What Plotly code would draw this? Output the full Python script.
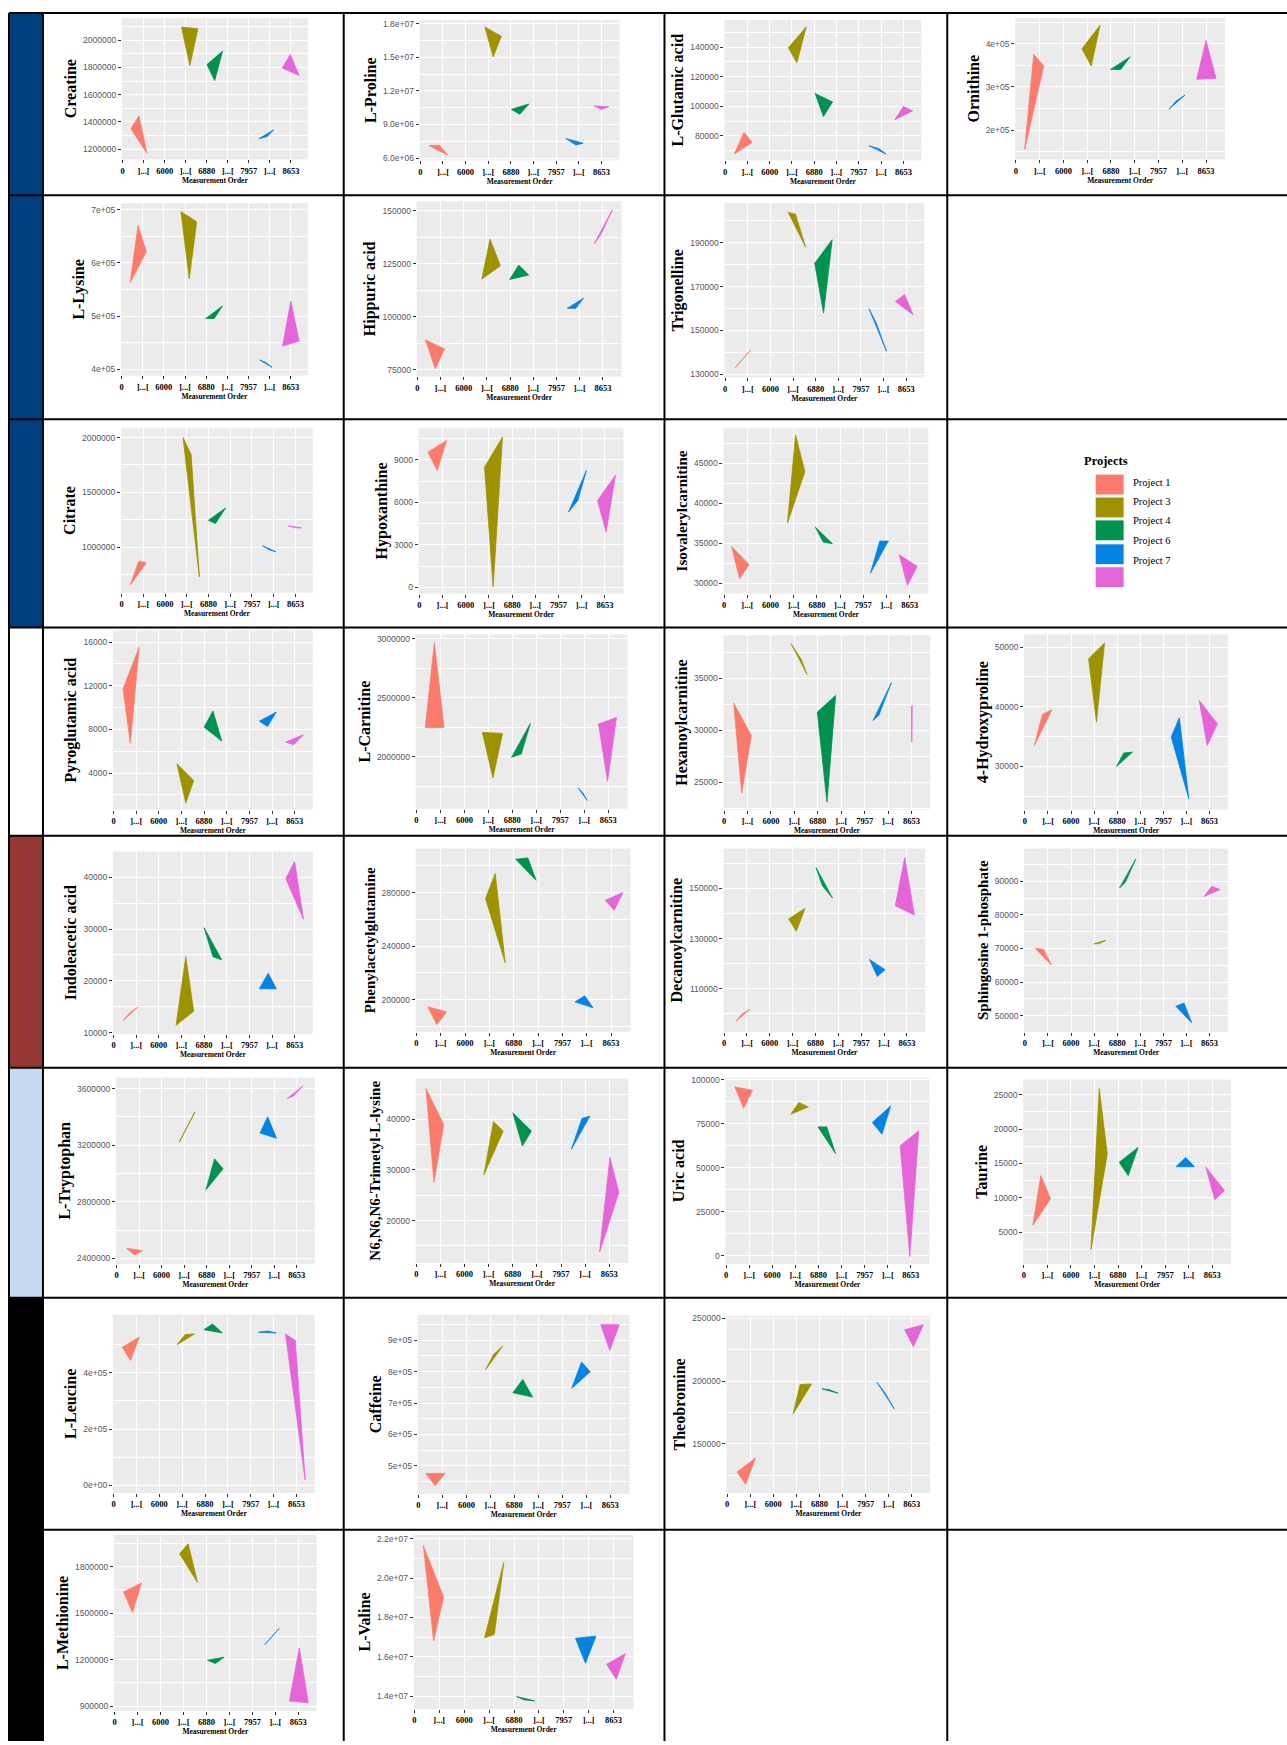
import plotly.graph_objects as go

W, H = 1287, 1745

# ---------------- data ----------------
PROJECTS = ["Project 1", "Project 3", "Project 4", "Project 6", "Project 7"]
COLORS = ["#FA7B6C", "#9E9200", "#00914F", "#0583E3", "#E465D8"]

X_POS = [0, 1, 2, 3, 4, 5, 6, 7, 8]
X_LABELS = ["0", "]...[", "6000", "]...[", "6880", "]...[", "7957", "]...[", "8653"]

# each metabolite: triangle vertices per project (order of PROJECTS); None = no mark
creatine_x = [[0.40, 0.78, 1.16], [2.80, 3.58, 3.20], [4.01, 4.75, 4.38], [6.48, 7.18, 6.87], [7.59, 7.97, 8.39]]
creatine_y = [[1350000, 1443000, 1169000], [2097000, 2083000, 1814000], [1821000, 1919000, 1704000], [1277000, 1341000, 1292000], [1795000, 1895000, 1741000]]
creatine_ticks = [1200000, 1400000, 1600000, 1800000, 2000000]

proline_x = [[0.39, 0.83, 1.21], [2.85, 3.58, 3.22], [4.02, 4.80, 4.39], [6.43, 7.19, 6.87], [7.68, 8.33, 8.0]]
proline_y = [[7.1e6, 7.16e6, 6.27e6], [1.77e7, 1.687e7, 1.504e7], [1.035e7, 1.083e7, 9.91e6], [7.75e6, 7.33e6, 7.16e6], [1.065e7, 1.059e7, 1.035e7]]
proline_ticks = [6e6, 9e6, 1.2e7, 1.5e7, 1.8e7]
proline_labels = ["6.0e+06", "9.0e+06", "1.2e+07", "1.5e+07", "1.8e+07"]

glutamic_x = [[0.41, 0.85, 1.21], [2.84, 3.64, 3.22], [4.04, 4.82, 4.41], [6.45, 7.22, 6.9], [7.61, 8.0, 8.41]]
glutamic_y = [[67640, 82250, 75500], [139550, 153700, 129440], [108540, 102920, 93030], [73260, 67640, 71300], [90790, 99780, 96850]]
glutamic_ticks = [80000, 100000, 120000, 140000]

ornithine_x = [[0.37, 0.75, 1.17], [2.78, 3.54, 3.17], [3.98, 4.41, 4.81], [6.44, 7.12, 6.75], [7.61, 8.0, 8.42]]
ornithine_y = [[156000, 375400, 348500], [388500, 443000, 348500], [340800, 340800, 370000], [248500, 281500, 268000], [317700, 407700, 320000]]
ornithine_ticks = [2e5, 3e5, 4e5]
ornithine_labels = ["2e+05", "3e+05", "4e+05"]

lysine_x = [[0.41, 0.78, 1.17], [2.81, 3.55, 3.2], [3.98, 4.77, 4.38], [6.53, 7.11, 6.8], [7.61, 8.0, 8.39]]
lysine_y = [[562800, 670000, 621400], [696300, 677500, 570000], [495400, 519000, 495400], [417400, 403700, 413000], [443600, 528400, 453000]]
lysine_ticks = [4e5, 5e5, 6e5, 7e5]
lysine_labels = ["4e+05", "5e+05", "6e+05", "7e+05"]

hippuric_x = [[0.35, 1.17, 0.77], [3.13, 3.58, 2.78], [4.37, 4.8, 3.98], [6.46, 7.16, 6.83], [7.63, 8.4, 7.92]]
hippuric_y = [[89100, 84870, 75450], [136660, 124100, 117830], [124420, 119710, 117670], [104020, 108720, 104020], [134620, 150310, 139000]]
hippuric_ticks = [75000, 100000, 125000, 150000]

trigonelline_x = [[0.44, 1.12, 0.78], [2.79, 3.11, 3.56], [3.96, 4.73, 4.35], [6.36, 6.69, 7.13], [7.52, 7.93, 8.31]]
trigonelline_y = [[132880, 140910, 137200], [203790, 203030, 187880], [180610, 191360, 157880], [159850, 153030, 140450], [163180, 166360, 157120]]
trigonelline_ticks = [130000, 150000, 170000, 190000]

citrate_x = [[0.4, 0.79, 1.14], [2.83, 3.2, 3.58], [4.0, 4.79, 4.32], [6.49, 7.1, 6.81], [7.68, 8.29, 8.0]]
citrate_y = [[654500, 872700, 857600], [2000000, 1845500, 730300], [1245500, 1357600, 1215200], [1012100, 957600, 975000], [1194000, 1175800, 1176000]]
citrate_ticks = [1000000, 1500000, 2000000]

hypoxanthine_x = [[0.37, 1.17, 0.77], [2.81, 3.58, 3.18], None, [6.43, 7.2, 6.83], [7.68, 8.45, 8.05]]
hypoxanthine_y = [[9540, 10360, 8250], [8480, 10600, 26], None, [5310, 8250, 6130], [6130, 7900, 3900]]
hypoxanthine_ticks = [0, 3000, 6000, 9000]

isovaleryl_x = [[0.32, 1.07, 0.67], [2.73, 3.08, 3.48], [3.93, 4.67, 4.27], [6.31, 6.71, 7.08], [7.55, 8.32, 7.9]]
isovaleryl_y = [[34580, 32330, 30540], [37500, 48540, 43960], [37000, 34920, 35130], [31250, 35250, 35250], [33540, 32080, 29710]]
isovaleryl_ticks = [30000, 35000, 40000, 45000]

pyroglutamic_x = [[0.42, 1.13, 0.74], [2.8, 3.54, 3.19], [4.0, 4.39, 4.78], [6.44, 7.19, 6.8], [7.61, 8.39, 7.96]]
pyroglutamic_y = [[11725, 15540, 6750], [4855, 3330, 1250], [8210, 9680, 6930], [8760, 9590, 8270], [6840, 7510, 6600]]
pyroglutamic_ticks = [4000, 8000, 12000, 16000]

carnitine_x = [[0.37, 0.75, 1.15], [2.75, 3.59, 3.19], [3.97, 4.75, 4.37], [6.75, 7.12, 6.92], [7.59, 8.34, 7.97]]
carnitine_y = [[2247900, 2966200, 2247900], [2205600, 2197200, 1819700], [1994400, 2281700, 2022500], [1732400, 1628200, 1698600], [2276000, 2332400, 1791500]]
carnitine_ticks = [2000000, 2500000, 3000000]

hexanoyl_x = [[0.41, 1.16, 0.75], [2.86, 3.54, 3.3], [3.98, 4.76, 4.39], [6.36, 7.14, 6.6], [8.0, 8.03, 8.01]]
hexanoyl_y = [[32600, 29500, 23980], [38290, 35350, 36760], [31740, 33340, 23110], [30940, 34550, 31420], [32300, 32350, 28870]]
hexanoyl_ticks = [25000, 30000, 35000]

hydroxyproline_x = [[0.41, 1.17, 0.76], [2.76, 3.45, 3.1], [3.97, 4.66, 4.28], [6.34, 6.69, 7.1], [7.55, 8.34, 7.9]]
hydroxyproline_y = [[33520, 39500, 38720], [48040, 50670, 37430], [30000, 32400, 32240], [34920, 38160, 24580], [41060, 37150, 33520]]
hydroxyproline_ticks = [30000, 40000, 50000]

indoleacetic_x = [[0.42, 1.06, 0.71], [2.76, 3.19, 3.54], [4.0, 4.78, 4.39], [6.44, 6.83, 7.19], [7.61, 8.0, 8.39]]
indoleacetic_y = [[12370, 14920, 13840], [11470, 24680, 14150], [30240, 24050, 24680], [18490, 21490, 18490], [39680, 43000, 31900]]
indoleacetic_ticks = [10000, 20000, 30000, 40000]

phenylacetyl_x = [[0.47, 1.24, 0.84], [2.84, 3.24, 3.65], [4.08, 4.58, 4.92], [6.52, 6.92, 7.26], [7.76, 8.49, 8.13]]
phenylacetyl_y = [[194520, 190780, 181310], [275510, 294200, 227660], [304920, 305920, 289220], [198260, 202740, 193770], [274270, 280000, 266790]]
phenylacetyl_ticks = [200000, 240000, 280000]

decanoyl_x = [[0.52, 1.13, 0.79], [2.82, 3.54, 3.16], [4.02, 4.3, 4.74], [6.36, 7.04, 6.7], [7.49, 7.9, 8.32]]
decanoyl_y = [[97020, 101790, 99930], [137810, 142050, 132910], [158340, 151060, 146160], [121660, 117550, 114900], [143110, 162320, 139400]]
decanoyl_ticks = [110000, 130000, 150000]

sphingosine_x = [[0.45, 0.8, 1.15], [2.99, 3.51, 3.23], [4.1, 4.8, 4.35], [6.54, 6.89, 7.23], [7.76, 8.1, 8.45]]
sphingosine_y = [[70000, 69800, 65070], [71380, 72460, 71450], [88030, 96600, 89700], [52760, 53740, 47830], [85470, 88520, 87540]]
sphingosine_ticks = [50000, 60000, 70000, 80000, 90000]

tryptophan_x = [[0.45, 1.15, 0.8], [2.78, 3.48, 3.06], [3.97, 4.73, 4.35], [6.37, 6.71, 7.1], [7.58, 8.28, 7.86]]
tryptophan_y = [[2470500, 2454100, 2423600], [3220400, 3436000, 3318000], [2885300, 3032900, 3103200], [3286000, 3400800, 3248500], [3529700, 3618700, 3548400]]
tryptophan_ticks = [2400000, 2800000, 3200000, 3600000]

trimethyllysine_x = [[0.4, 1.13, 0.73], [2.8, 3.2, 3.6], [4.0, 4.77, 4.4], [6.43, 6.87, 7.2], [7.6, 8.03, 8.4]]
trimethyllysine_y = [[46100, 39020, 27540], [29050, 39540, 37700], [41310, 37700, 34750], [34100, 40200, 40660], [13770, 32460, 25570]]
trimethyllysine_ticks = [20000, 30000, 40000]

uric_x = [[0.38, 1.14, 0.76], [2.8, 3.15, 3.56], [3.98, 4.36, 4.74], [6.33, 7.13, 6.75], [7.54, 8.34, 7.96]]
uric_y = [[96030, 94140, 83930], [80530, 87150, 84690], [73350, 73350, 58220], [75800, 85260, 69190], [62570, 71080, -380]]
uric_ticks = [0, 25000, 50000, 75000, 100000]

taurine_x = [[0.38, 0.72, 1.13], [2.85, 3.2, 3.54], [4.05, 4.85, 4.43], [6.46, 7.25, 6.87], [7.73, 8.52, 8.11]]
taurine_y = [[6050, 13250, 9890], [2550, 25860, 16370], [15170, 17330, 13250], [14540, 14540, 15890], [14450, 11090, 9750]]
taurine_ticks = [5000, 10000, 15000, 20000, 25000]

leucine_x = [[0.38, 1.12, 0.74], [2.78, 3.54, 3.13], [3.95, 4.33, 4.76], [6.34, 6.75, 7.11], [7.52, 7.95, 8.38]]
leucine_y = [[490600, 525900, 443500], [500000, 537600, 535300], [552900, 572900, 541200], [543500, 548200, 541200], [537600, 514100, 20000]]
leucine_ticks = [0, 2e5, 4e5]
leucine_labels = ["0e+00", "2e+05", "4e+05"]

caffeine_x = [[0.31, 1.11, 0.7], [2.81, 3.51, 3.13], [3.94, 4.35, 4.76], [6.39, 6.8, 7.16], [7.6, 8.37, 7.98]]
caffeine_y = [[475700, 475700, 436500], [806900, 881000, 854500], [732800, 775100, 719000], [746600, 831200, 799500], [949700, 949700, 867200]]
caffeine_ticks = [5e5, 6e5, 7e5, 8e5, 9e5]
caffeine_labels = ["5e+05", "6e+05", "7e+05", "8e+05", "9e+05"]

theobromine_x = [[0.43, 1.23, 0.8], [2.86, 3.16, 3.66], [4.11, 4.81, 4.41], [6.49, 7.24, 6.82], [7.69, 8.5, 8.07]]
theobromine_y = [[127450, 138600, 117640], [173870, 197220, 197750], [193770, 190320, 193200], [199070, 177850, 191000], [240980, 244960, 227450]]
theobromine_ticks = [150000, 200000, 250000]

methionine_x = [[0.39, 1.17, 0.78], [2.83, 3.2, 3.61], [4.04, 4.76, 4.39], [6.54, 7.16, 6.85], [7.61, 8.04, 8.43]]
methionine_y = [[1636800, 1694800, 1505800], [1883700, 1948200, 1699100], [1196600, 1215900, 1175100], [1297500, 1400600, 1355500], [932500, 1276000, 921700]]
methionine_ticks = [900000, 1200000, 1500000, 1800000]

valine_x = [[0.36, 1.17, 0.77], [2.82, 3.21, 3.59], [4.1, 4.83, 4.41], [6.47, 7.29, 6.87], [7.72, 8.47, 8.11]]
valine_y = [[2.1646e7, 1.9046e7, 1.6802e7], [1.697e7, 1.714e7, 2.08e7], [1.398e7, 1.376e7, 1.381e7], [1.694e7, 1.705e7, 1.567e7], [1.562e7, 1.616e7, 1.486e7]]
valine_ticks = [1.4e7, 1.6e7, 1.8e7, 2.0e7, 2.2e7]
valine_labels = ["1.4e+07", "1.6e+07", "1.8e+07", "2.0e+07", "2.2e+07"]

# (name, x vertices, y vertices, y ticks, y tick labels or None)
PANELS = [
    ("Creatine", creatine_x, creatine_y, creatine_ticks, None),
    ("L-Proline", proline_x, proline_y, proline_ticks, proline_labels),
    ("L-Glutamic acid", glutamic_x, glutamic_y, glutamic_ticks, None),
    ("Ornithine", ornithine_x, ornithine_y, ornithine_ticks, ornithine_labels),
    ("L-Lysine", lysine_x, lysine_y, lysine_ticks, lysine_labels),
    ("Hippuric acid", hippuric_x, hippuric_y, hippuric_ticks, None),
    ("Trigonelline", trigonelline_x, trigonelline_y, trigonelline_ticks, None),
    ("Citrate", citrate_x, citrate_y, citrate_ticks, None),
    ("Hypoxanthine", hypoxanthine_x, hypoxanthine_y, hypoxanthine_ticks, None),
    ("Isovalerylcarnitine", isovaleryl_x, isovaleryl_y, isovaleryl_ticks, None),
    ("Pyroglutamic acid", pyroglutamic_x, pyroglutamic_y, pyroglutamic_ticks, None),
    ("L-Carnitine", carnitine_x, carnitine_y, carnitine_ticks, None),
    ("Hexanoylcarnitine", hexanoyl_x, hexanoyl_y, hexanoyl_ticks, None),
    ("4-Hydroxyproline", hydroxyproline_x, hydroxyproline_y, hydroxyproline_ticks, None),
    ("Indoleacetic acid", indoleacetic_x, indoleacetic_y, indoleacetic_ticks, None),
    ("Phenylacetylglutamine", phenylacetyl_x, phenylacetyl_y, phenylacetyl_ticks, None),
    ("Decanoylcarnitine", decanoyl_x, decanoyl_y, decanoyl_ticks, None),
    ("Sphingosine 1-phosphate", sphingosine_x, sphingosine_y, sphingosine_ticks, None),
    ("L-Tryptophan", tryptophan_x, tryptophan_y, tryptophan_ticks, None),
    ("N6,N6,N6-Trimetyl-L-lysine", trimethyllysine_x, trimethyllysine_y, trimethyllysine_ticks, None),
    ("Uric acid", uric_x, uric_y, uric_ticks, None),
    ("Taurine", taurine_x, taurine_y, taurine_ticks, None),
    ("L-Leucine", leucine_x, leucine_y, leucine_ticks, leucine_labels),
    ("Caffeine", caffeine_x, caffeine_y, caffeine_ticks, caffeine_labels),
    ("Theobromine", theobromine_x, theobromine_y, theobromine_ticks, None),
    ("L-Methionine", methionine_x, methionine_y, methionine_ticks, None),
    ("L-Valine", valine_x, valine_y, valine_ticks, valine_labels),
]

# ---------------- layout (pixels) ----------------
# grey plotting area of every panel: x0, x1, y0(top), y1(bottom) ; y axis range
PANEL_BOX = [
    (121, 307, 15, 157), (419, 619, 17, 158), (724, 921, 17, 158), (1015, 1225, 15, 157),
    (120, 307, 201, 374), (416, 621, 199, 375), (724, 924, 201, 376),
    (120, 312, 427, 592), (418, 623, 427, 593), (723, 928, 427, 593),
    (112, 312, 630, 810), (415, 627, 634, 809), (723, 930, 635, 810), (1024, 1228, 634, 810),
    (112, 312, 852, 1035), (415, 630, 849, 1033), (723, 925, 849, 1033), (1024, 1228, 849, 1033),
    (115, 314, 1079, 1266), (415, 628, 1080, 1265), (725, 929, 1079, 1266), (1023, 1231, 1081, 1266),
    (112, 314, 1317, 1496), (417, 629, 1317, 1497), (726, 930, 1318, 1496),
    (113, 316, 1538, 1715), (413, 633, 1538, 1713),
]
Y_RANGE = [
    (1125000, 2163000), (5.8e6, 1.833e7), (63370, 158380), (132300, 460000),
    (388200, 712300), (71850, 154570), (128480, 208030),
    (584800, 2084800), (-446, 11230), (28670, 49380),
    (640, 17070), (1557700, 3036600), (22380, 39090), (22740, 52120),
    (9810, 44910), (175830, 312900), (92780, 165890), (45170, 99750),
    (2360200, 3677300), (11610, 48070), (-4540, 101320), (440, 27160),
    (-27000, 605900), (410100, 981500), (110740, 252120),
    (867800, 2006200), (1.334e7, 2.22e7),
]

ROW_Y = [10, 193, 418, 627, 836, 1069, 1300, 1533, 1745]
COL_X = [8, 42, 343, 664, 947, 1287]
STRIP_COLORS = ["#003F7D", "#003F7D", "#003F7D", "#FFFFFF", "#953735", "#C6D9F1", "#000000", "#000000"]

SERIF = "Liberation Serif, Times New Roman, serif"
SANS = "Liberation Sans, Arial, sans-serif"


def px(x):
    return x / W


def py(y):
    return 1 - y / H


fig = go.Figure()
layout = dict(
    width=W, height=H, margin=dict(l=0, r=0, t=0, b=0),
    paper_bgcolor="white", plot_bgcolor="#EBEBEB", showlegend=False,
    shapes=[], annotations=[],
)

for i, (name, txs, tys, ticks, labels) in enumerate(PANELS):
    k = i + 1
    sx = "" if k == 1 else str(k)
    x0, x1, y0, y1 = PANEL_BOX[i]
    ylo, yhi = Y_RANGE[i]
    if labels is None:
        labels = [str(int(v)) for v in ticks]
    step = ticks[1] - ticks[0]
    minor = [t - step / 2 for t in ticks] + [ticks[-1] + step / 2]
    minor = [m for m in minor if ylo < m < yhi]
    title_size = 16 if len(name) <= 18 else 15
    layout["xaxis" + sx] = dict(
        domain=[px(x0), px(x1)], anchor="y" + sx, range=[-0.03, 8.8],
        tickmode="array", tickvals=X_POS, ticktext=X_LABELS,
        ticks="outside", ticklen=3, tickwidth=1, tickcolor="#333333",
        showgrid=True, gridcolor="white", gridwidth=1.2,
        zeroline=False, showline=False, fixedrange=True,
        tickfont=dict(family=SERIF, size=8.5, color="black", weight="bold"),
        title=dict(text="Measurement Order", standoff=2,
                   font=dict(family=SERIF, size=7.5, color="black", weight="bold")),
    )
    layout["yaxis" + sx] = dict(
        domain=[py(y1), py(y0)], anchor="x" + sx, range=[ylo, yhi],
        tickmode="array", tickvals=ticks, ticktext=labels,
        ticks="outside", ticklen=3, tickwidth=1, tickcolor="#333333",
        showgrid=True, gridcolor="white", gridwidth=1.2,
        minor=dict(tickmode="array", tickvals=minor, showgrid=True,
                   gridcolor="white", gridwidth=0.6, ticks=""),
        zeroline=False, showline=False, fixedrange=True,
        tickfont=dict(family=SANS, size=8.5, color="#555560"),
        title=dict(text=name, standoff=2,
                   font=dict(family=SERIF, size=title_size, color="black", weight="bold")),
    )
    for p in range(len(PROJECTS)):
        xs, ys = txs[p], tys[p]
        if xs is None:
            continue
        fig.add_trace(go.Scatter(
            x=xs + [xs[0]], y=ys + [ys[0]], mode="lines", fill="toself",
            fillcolor=COLORS[p], line=dict(color=COLORS[p], width=0.8),
            xaxis="x" + sx, yaxis="y" + sx, hoverinfo="skip", showlegend=False,
        ))

# left colour strip
for r in range(len(STRIP_COLORS)):
    layout["shapes"].append(dict(
        type="rect", xref="paper", yref="paper",
        x0=px(COL_X[0]), x1=px(COL_X[1]), y0=py(ROW_Y[r + 1]), y1=py(ROW_Y[r]),
        fillcolor=STRIP_COLORS[r], line=dict(width=0), layer="below",
    ))
# table grid lines
for yv in ROW_Y[:-1]:
    layout["shapes"].append(dict(
        type="line", xref="paper", yref="paper", x0=px(COL_X[0]), x1=1,
        y0=py(yv), y1=py(yv), line=dict(color="black", width=2)))
for xv in COL_X[:-1]:
    layout["shapes"].append(dict(
        type="line", xref="paper", yref="paper", x0=px(xv), x1=px(xv),
        y0=py(ROW_Y[0]), y1=0, line=dict(color="black", width=2)))

# legend (drawn in its table cell)
LEG_BOX_X = (1095, 1124)
LEG_BOX_Y = [(473, 494), (496, 517), (519, 540), (543, 564), (566, 587)]
LEG_TEXT_Y = [481, 501, 520, 540, 560]
layout["annotations"].append(dict(
    text="Projects", xref="paper", yref="paper", x=px(1106), y=py(460),
    showarrow=False, xanchor="center", yanchor="middle",
    font=dict(family=SERIF, size=12.5, color="black", weight="bold")))
for p in range(len(PROJECTS)):
    layout["shapes"].append(dict(
        type="rect", xref="paper", yref="paper",
        x0=px(LEG_BOX_X[0]), x1=px(LEG_BOX_X[1]),
        y0=py(LEG_BOX_Y[p][1]), y1=py(LEG_BOX_Y[p][0]),
        fillcolor=COLORS[p], line=dict(color="white", width=1)))
    layout["annotations"].append(dict(
        text=PROJECTS[p], xref="paper", yref="paper", x=px(1131), y=py(LEG_TEXT_Y[p]),
        showarrow=False, xanchor="left", yanchor="middle",
        font=dict(family=SERIF, size=10.5, color="black")))

fig.update_layout(**layout)
fig.write_html("out.html")
